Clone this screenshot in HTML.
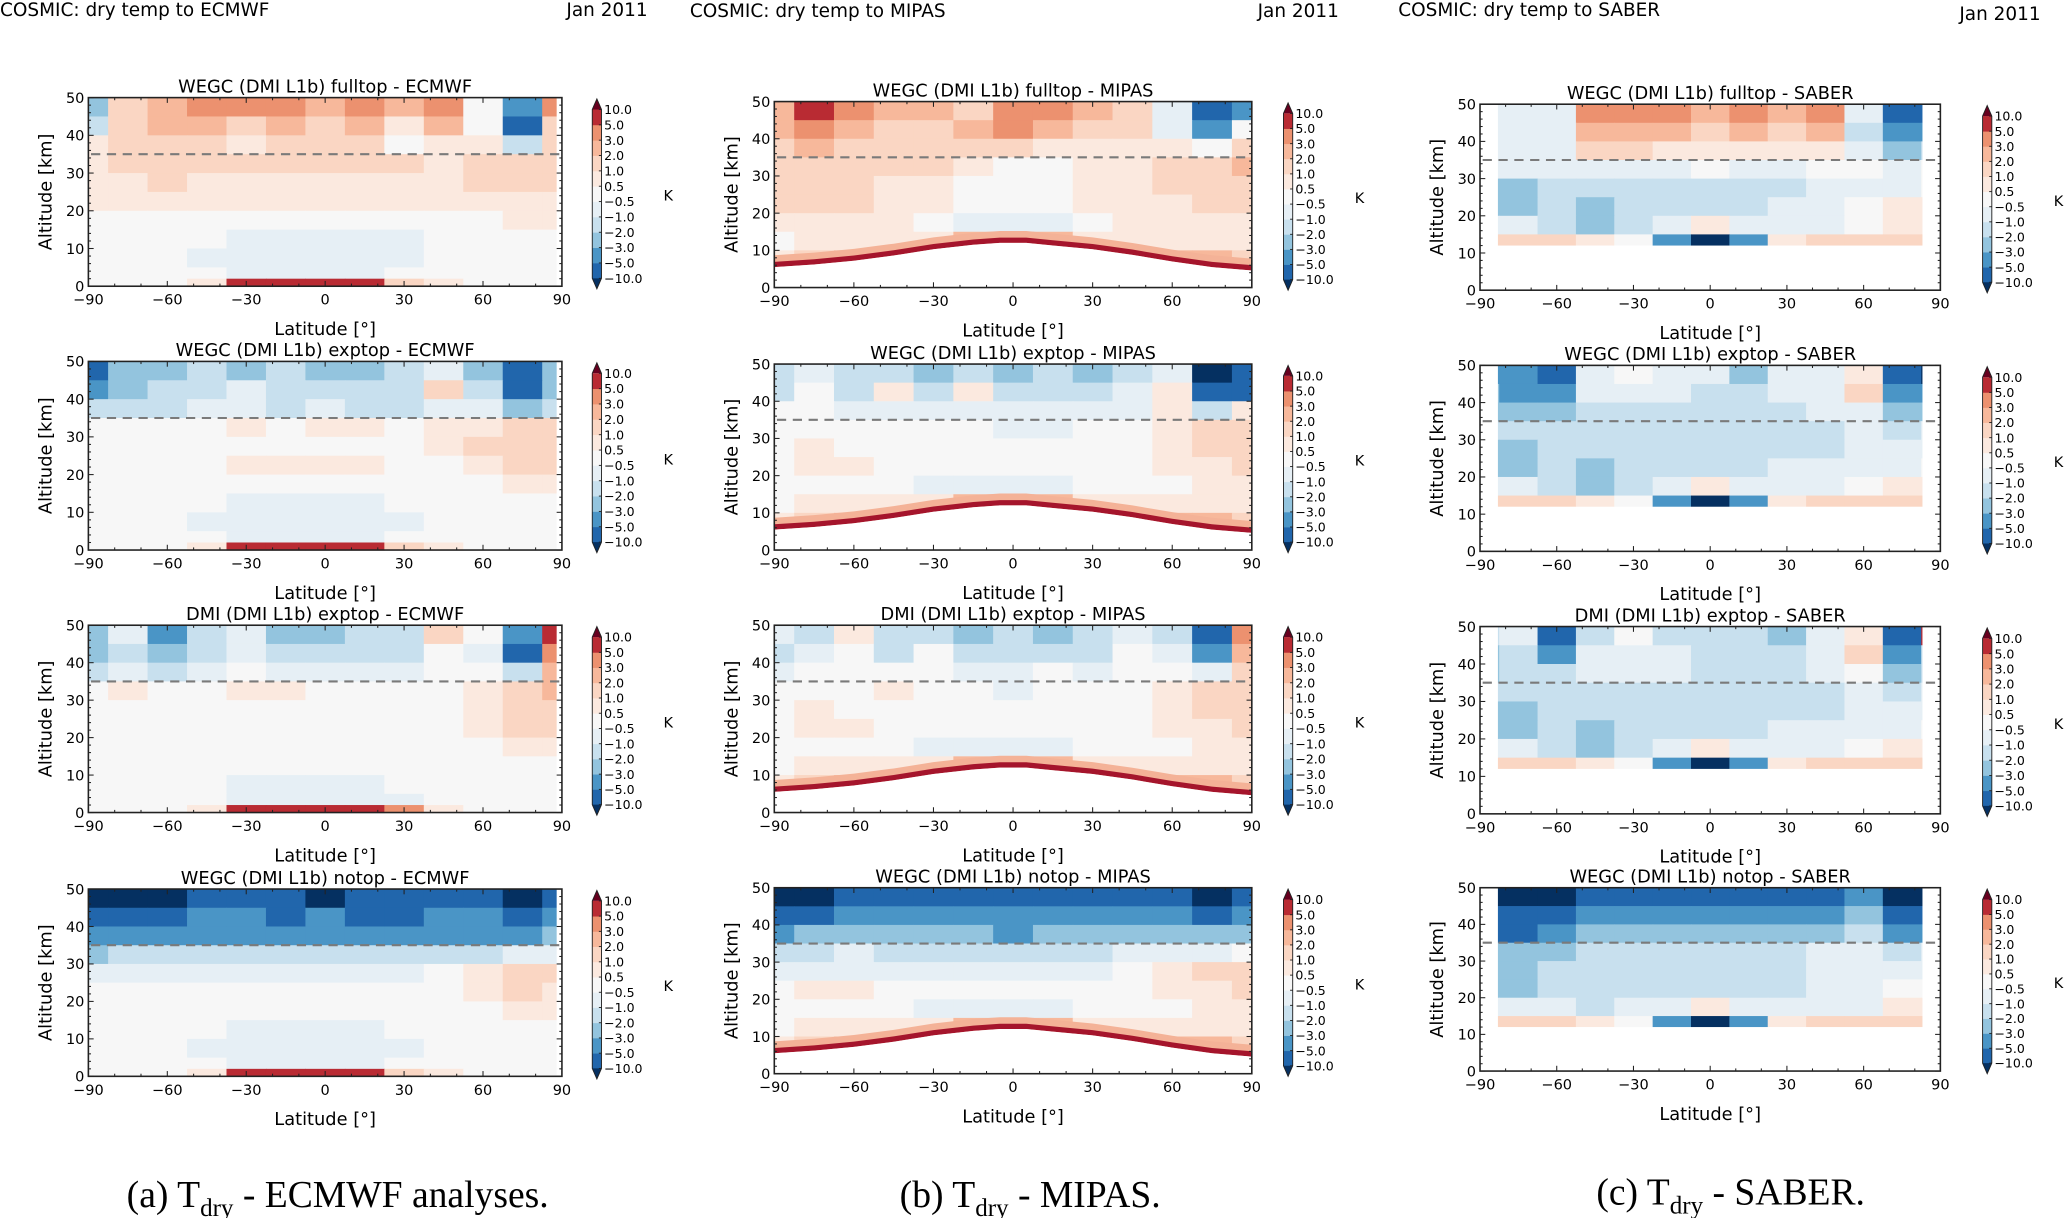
<!DOCTYPE html>
<html><head><meta charset="utf-8"><style>
html,body{margin:0;padding:0;background:#fff;width:2067px;height:1218px;overflow:hidden}
svg{display:block}
text{font-family:"DejaVu Sans","Liberation Sans",sans-serif;fill:#000}
</style></head><body>
<svg id="fig" width="2067" height="1218" viewBox="0 0 1567 923.4" preserveAspectRatio="none" xmlns="http://www.w3.org/2000/svg">
<text x="0" y="12" font-size="14">COSMIC: dry temp to ECMWF</text>
<text x="491" y="12" font-size="14" text-anchor="end">Jan 2011</text>
<text x="523" y="13" font-size="14">COSMIC: dry temp to MIPAS</text>
<text x="1015" y="13" font-size="14" text-anchor="end">Jan 2011</text>
<text x="1060" y="12" font-size="14">COSMIC: dry temp to SABER</text>
<text x="1547" y="15" font-size="14" text-anchor="end">Jan 2011</text>
<text x="256" y="915" font-size="28.5" text-anchor="middle" style="font-family:'Liberation Serif',serif">(a) T<tspan font-size="19" dy="7">dry</tspan><tspan dy="-7"> - ECMWF analyses.</tspan></text>
<text x="781" y="915" font-size="28.5" text-anchor="middle" style="font-family:'Liberation Serif',serif">(b) T<tspan font-size="19" dy="7">dry</tspan><tspan dy="-7"> - MIPAS.</tspan></text>
<text x="1312" y="913" font-size="28.5" text-anchor="middle" style="font-family:'Liberation Serif',serif">(c) T<tspan font-size="19" dy="7">dry</tspan><tspan dy="-7"> - SABER.</tspan></text>
</svg>
<script>
// ---- data ----
const latCenters = [-90,-75,-60,-45,-30,-15,0,15,30,45,60,75,90];
const altEdges = [50,45,40,35,30,25,20,15,10,5,2,0];
const levels = [-10,-5,-3,-2,-1,-0.5,0.5,1,2,3,5,10];
const levelLabels = ["\u221210.0","\u22125.0","\u22123.0","\u22122.0","\u22121.0","\u22120.5","0.5","1.0","2.0","3.0","5.0","10.0"];
const binColors = ["#053061","#2166ac","#4a95c6","#93c4de","#c8e0ee","#e6eff5","#f7f7f7","#fbe9df","#fad6c3","#f7b89b","#ec916f","#b92b33","#67001f"];
const xTicks = [-90,-60,-30,0,30,60,90];
const yTicks = [0,10,20,30,40,50];
const tropLat = [-90,-75,-60,-45,-30,-15,-5,5,15,30,45,60,75,90];
const tropAlt = [5.5,6.2,7.2,8.6,10.3,11.5,12,12,11.3,10.3,8.8,7,5.5,4.6];

const gA1=[[-2.5,1.5,2.5,4,4,4,2.5,4,2.5,4,0,-4,4],[-1.5,1.5,2.5,2.5,1.5,2.5,1.5,2.5,0.7,2.5,0,-7,1.5],[0.7,1.5,1.5,1.5,0.7,1.5,1.5,1.5,0,0.7,0.7,-1.5,1.5],[0.7,1.5,1.5,1.5,1.5,1.5,1.5,1.5,1.5,0.7,1.5,1.5,1.5],[0.7,0.7,1.5,0.7,0.7,0.7,0.7,0.7,0.7,0.7,1.5,1.5,1.5],[0.7,0.7,0.7,0.7,0.7,0.7,0.7,0.7,0.7,0.7,0.7,0.7,0.7],[0,0,0,0,0,0,0,0,0,0,0,0.7,0.7],[0,0,0,0,-0.7,-0.7,-0.7,-0.7,-0.7,0,0,0,0],[0,0,0,-0.7,-0.7,-0.7,-0.7,-0.7,-0.7,0,0,0,0],[0,0,0,0,-0.7,-0.7,-0.7,-0.7,0,0,0,0,0],[0,0,0,0.7,7,7,7,7,1.5,0.7,0,0,0]];
const gA2=[[-7,-2.5,-2.5,-1.5,-2.5,-1.5,-2.5,-2.5,-1.5,-0.7,-2.5,-7,-2.5],[-4,-2.5,-1.5,-1.5,-0.7,-1.5,-1.5,-1.5,-1.5,1.5,-1.5,-7,-2.5],[-1.5,-1.5,-1.5,-0.7,-0.7,-1.5,-0.7,-1.5,-1.5,-0.7,-0.7,-2.5,-1.5],[0,0,0,0,0.7,0,0.7,0.7,0,0.7,0.7,1.5,1.5],[0,0,0,0,0,0,0,0,0,0.7,1.5,1.5,1.5],[0,0,0,0,0.7,0.7,0.7,0.7,0,0,0.7,1.5,1.5],[0,0,0,0,0,0,0,0,0,0,0,0.7,0.7],[0,0,0,0,-0.7,-0.7,-0.7,-0.7,0,0,0,0,0],[0,0,0,-0.7,-0.7,-0.7,-0.7,-0.7,-0.7,0,0,0,0],[0,0,0,0,-0.7,-0.7,-0.7,-0.7,0,0,0,0,0],[0,0,0,0.7,7,7,7,7,1.5,0.7,0,0,0]];
const gA3=[[-2.5,-0.7,-4,-1.5,-0.7,-2.5,-2.5,-1.5,-1.5,1.5,0,-4,7],[-2.5,-1.5,-2.5,-1.5,-0.7,-1.5,-1.5,-1.5,-1.5,0,-0.7,-7,4],[-1.5,-0.7,-1.5,-0.7,0,-0.7,-0.7,-0.7,-0.7,0,0,-1.5,2.5],[0,0.7,0,0,0.7,0.7,0,0,0,0,0.7,1.5,2.5],[0,0,0,0,0,0,0,0,0,0,0.7,1.5,1.5],[0,0,0,0,0,0,0,0,0,0,0.7,1.5,1.5],[0,0,0,0,0,0,0,0,0,0,0,0.7,0.7],[0,0,0,0,0,0,0,0,0,0,0,0,0],[0,0,0,0,-0.7,-0.7,-0.7,-0.7,0,0,0,0,0],[0,0,0,0,-0.7,-0.7,-0.7,-0.7,-0.7,0,0,0,0],[0,0,0,0.7,7,7,7,7,4,0.7,0,0,0]];
const gA4=[[-12,-12,-12,-7,-7,-7,-12,-7,-7,-7,-7,-12,-7],[-7,-7,-7,-4,-4,-7,-4,-7,-7,-4,-4,-7,-4],[-4,-4,-4,-4,-4,-4,-4,-4,-4,-4,-4,-4,-2.5],[-2.5,-1.5,-1.5,-1.5,-1.5,-1.5,-1.5,-1.5,-1.5,-1.5,-1.5,-0.7,-0.7],[-0.7,-0.7,-0.7,-0.7,-0.7,-0.7,-0.7,-0.7,-0.7,0,0.7,1.5,1.5],[0,0,0,0,0,0,0,0,0,0,0.7,1.5,0.7],[0,0,0,0,0,0,0,0,0,0,0,0.7,0.7],[0,0,0,0,-0.7,-0.7,-0.7,-0.7,0,0,0,0,0],[0,0,0,-0.7,-0.7,-0.7,-0.7,-0.7,-0.7,0,0,0,0],[0,0,0,0,-0.7,-0.7,-0.7,-0.7,0,0,0,0,0],[0,0,0,0.7,7,7,7,7,1.5,0.7,0,0,0]];
const gB1=[[2.5,7,4,2.5,2.5,1.5,4,4,2.5,1.5,-0.7,-7,-4],[2.5,4,2.5,1.5,1.5,2.5,4,2.5,1.5,1.5,-0.7,-4,0],[1.5,2.5,1.5,1.5,1.5,1.5,1.5,0.7,0.7,0.7,0.7,0,1.5],[1.5,1.5,1.5,1.5,1.5,0.7,0,0,0.7,0.7,1.5,1.5,2.5],[1.5,1.5,1.5,0.7,0.7,0,0,0,0.7,0.7,1.5,1.5,1.5],[1.5,1.5,1.5,0.7,0.7,0,0,0,0.7,0.7,0.7,1.5,1.5],[0.7,0.7,0.7,0.7,0,-0.7,-0.7,-0.7,0,0.7,0.7,0.7,0.7],[0,0.7,0.7,0.7,0.7,2.5,2.5,2.5,0.7,0.7,0.7,0.7,0.7],[0.7,1.5,2.5,2.5,2.5,2.5,2.5,2.5,2.5,2.5,2.5,2.5,1.5],[null,null,null,null,null,null,null,null,null,null,null,null,null],[null,null,null,null,null,null,null,null,null,null,null,null,null]];
const gB2=[[-1.5,-0.7,-1.5,-1.5,-2.5,-1.5,-2.5,-1.5,-2.5,-1.5,-0.7,-12,-7],[-1.5,0,-1.5,0.7,-1.5,0.7,-1.5,-1.5,-1.5,-0.7,0.7,-7,-7],[0,0,-0.7,-0.7,-0.7,-0.7,-0.7,-0.7,-0.7,-0.7,0.7,-1.5,0.7],[0,0,0,0,0,0,-0.7,-0.7,0,0,0.7,1.5,1.5],[0,0.7,0,0,0,0,0,0,0,0,0.7,1.5,1.5],[0,0.7,0.7,0,0,0,0,0,0,0,0.7,0.7,1.5],[0,0,0,0,-0.7,-0.7,-0.7,-0.7,0,0,0,0.7,0.7],[0,0.7,0.7,0.7,0.7,2.5,2.5,2.5,0.7,0.7,0.7,0.7,0.7],[0.7,1.5,2.5,2.5,2.5,2.5,2.5,2.5,2.5,2.5,2.5,2.5,1.5],[null,null,null,null,null,null,null,null,null,null,null,null,null],[null,null,null,null,null,null,null,null,null,null,null,null,null]];
const gB3=[[-0.7,-1.5,0.7,-1.5,-1.5,-2.5,-1.5,-2.5,-1.5,-0.7,-1.5,-7,4],[-1.5,-0.7,0,-1.5,0,-1.5,-1.5,-1.5,-1.5,0,-0.7,-4,2.5],[-0.7,0,0,0,0,-0.7,-0.7,0,-0.7,0,0,-0.7,1.5],[0,0,0,0.7,0,0,-0.7,0,0,0,0.7,1.5,1.5],[0,0.7,0,0,0,0,0,0,0,0,0.7,1.5,1.5],[0,0.7,0.7,0,0,0,0,0,0,0,0.7,0.7,1.5],[0,0,0,0,-0.7,-0.7,-0.7,-0.7,0,0,0,0.7,0.7],[0,0.7,0.7,0.7,0.7,2.5,2.5,2.5,0.7,0.7,0.7,0.7,0.7],[0.7,1.5,2.5,2.5,2.5,2.5,2.5,2.5,2.5,2.5,2.5,2.5,1.5],[null,null,null,null,null,null,null,null,null,null,null,null,null],[null,null,null,null,null,null,null,null,null,null,null,null,null]];
const gB4=[[-12,-12,-7,-7,-7,-7,-7,-7,-7,-7,-7,-12,-7],[-7,-7,-4,-4,-4,-4,-4,-4,-4,-4,-4,-7,-4],[-4,-2.5,-2.5,-2.5,-2.5,-2.5,-4,-2.5,-2.5,-2.5,-2.5,-2.5,-2.5],[-1.5,-1.5,-0.7,-1.5,-1.5,-1.5,-1.5,-1.5,-1.5,-0.7,-0.7,-0.7,0],[-0.7,-0.7,-0.7,-0.7,-0.7,-0.7,-0.7,-0.7,-0.7,0,0.7,1.5,1.5],[0,0.7,0.7,0,0,0,0,0,0,0,0.7,0.7,1.5],[0,0,0,0,-0.7,-0.7,-0.7,-0.7,0,0,0,0.7,0.7],[0,0.7,0.7,0.7,0.7,2.5,2.5,2.5,0.7,0.7,0.7,0.7,0.7],[0.7,1.5,2.5,2.5,2.5,2.5,2.5,2.5,2.5,2.5,2.5,2.5,1.5],[null,null,null,null,null,null,null,null,null,null,null,null,null],[null,null,null,null,null,null,null,null,null,null,null,null,null]];
const gC1=[[-0.7,-0.7,-0.7,4,4,4,2.5,4,2.5,4,-0.7,-7,-7],[-0.7,-0.7,-0.7,2.5,2.5,2.5,1.5,2.5,1.5,2.5,-1.5,-4,-4],[-0.7,-0.7,-0.7,1.5,1.5,0.7,0.7,0.7,0.7,0.7,-0.7,-2.5,-1.5],[-0.7,-0.7,-0.7,-0.7,-0.7,-0.7,0,-0.7,-0.7,0,0,-0.7,0],[-2.5,-2.5,-1.5,-1.5,-1.5,-1.5,-1.5,-1.5,-1.5,-0.7,-0.7,-0.7,0],[-2.5,-2.5,-1.5,-2.5,-1.5,-1.5,-1.5,-1.5,-0.7,-0.7,0,0.7,0.7],[-0.7,-0.7,-1.5,-2.5,-1.5,-0.7,0.7,-0.7,-0.7,-0.7,0,0.7,0.7],[1.5,1.5,1.5,0.7,0,-4,-12,-4,0.7,1.5,1.5,1.5,1.5],[null,null,null,null,null,null,null,null,null,null,null,null,null],[null,null,null,null,null,null,null,null,null,null,null,null,null],[null,null,null,null,null,null,null,null,null,null,null,null,null]];
const gC2=[[-4,-4,-7,-0.7,0,-0.7,-0.7,-2.5,-0.7,-0.7,0.7,-7,-12],[-2.5,-4,-4,-0.7,-0.7,-0.7,-1.5,-1.5,-0.7,-0.7,1.5,-4,-4],[-2.5,-2.5,-2.5,-1.5,-1.5,-1.5,-1.5,-1.5,-1.5,-0.7,-0.7,-2.5,-2.5],[-1.5,-1.5,-1.5,-1.5,-1.5,-1.5,-1.5,-1.5,-1.5,-1.5,-0.7,-1.5,-0.7],[-2.5,-2.5,-1.5,-1.5,-1.5,-1.5,-1.5,-1.5,-1.5,-1.5,-0.7,-0.7,-0.7],[-2.5,-2.5,-1.5,-2.5,-1.5,-1.5,-1.5,-1.5,-0.7,-0.7,-0.7,-0.7,0],[-0.7,-0.7,-1.5,-2.5,-1.5,-0.7,0.7,-0.7,-0.7,-0.7,0,0.7,0.7],[1.5,1.5,1.5,0.7,0,-4,-12,-4,0.7,1.5,1.5,1.5,1.5],[null,null,null,null,null,null,null,null,null,null,null,null,null],[null,null,null,null,null,null,null,null,null,null,null,null,null],[null,null,null,null,null,null,null,null,null,null,null,null,null]];
const gC3=[[-1.5,-0.7,-7,-1.5,0,-1.5,-1.5,-1.5,-2.5,-0.7,0.7,-7,7],[-2.5,-1.5,-4,-0.7,-0.7,-0.7,-1.5,-1.5,-1.5,-0.7,1.5,-4,-1.5],[-2.5,-1.5,-1.5,-0.7,-0.7,-0.7,-1.5,-1.5,-1.5,-0.7,0,-2.5,-1.5],[-1.5,-1.5,-1.5,-1.5,-1.5,-1.5,-1.5,-1.5,-1.5,-1.5,-0.7,-1.5,-0.7],[-2.5,-2.5,-1.5,-1.5,-1.5,-1.5,-1.5,-1.5,-1.5,-1.5,-0.7,-0.7,-0.7],[-2.5,-2.5,-1.5,-2.5,-1.5,-1.5,-1.5,-1.5,-0.7,-0.7,-0.7,-0.7,0],[-0.7,-0.7,-1.5,-2.5,-1.5,-0.7,0.7,-0.7,-0.7,-0.7,0,0.7,0.7],[1.5,1.5,1.5,0.7,0,-4,-12,-4,0.7,1.5,1.5,1.5,1.5],[null,null,null,null,null,null,null,null,null,null,null,null,null],[null,null,null,null,null,null,null,null,null,null,null,null,null],[null,null,null,null,null,null,null,null,null,null,null,null,null]];
const gC4=[[-12,-12,-12,-7,-7,-7,-7,-7,-7,-7,-4,-12,-12],[-7,-7,-7,-4,-4,-4,-4,-4,-4,-4,-2.5,-7,-7],[-7,-7,-4,-2.5,-2.5,-2.5,-2.5,-2.5,-2.5,-2.5,-1.5,-4,-4],[-2.5,-2.5,-2.5,-1.5,-1.5,-1.5,-1.5,-1.5,-1.5,-0.7,-0.7,-1.5,-0.7],[-2.5,-2.5,-1.5,-1.5,-1.5,-1.5,-1.5,-1.5,-1.5,-0.7,-0.7,-0.7,-0.7],[-2.5,-2.5,-1.5,-1.5,-1.5,-1.5,-1.5,-1.5,-1.5,-0.7,-0.7,0,0],[-0.7,-0.7,-0.7,-1.5,-0.7,-0.7,0.7,-0.7,-0.7,-0.7,-0.7,0.7,0.7],[1.5,1.5,1.5,0.7,0,-4,-12,-4,0.7,1.5,1.5,1.5,1.5],[null,null,null,null,null,null,null,null,null,null,null,null,null],[null,null,null,null,null,null,null,null,null,null,null,null,null],[null,null,null,null,null,null,null,null,null,null,null,null,null]];

const panelTitles = ["WEGC (DMI L1b) fulltop - ECMWF","WEGC (DMI L1b) exptop - ECMWF","DMI (DMI L1b) exptop - ECMWF","WEGC (DMI L1b) notop - ECMWF",
"WEGC (DMI L1b) fulltop - MIPAS","WEGC (DMI L1b) exptop - MIPAS","DMI (DMI L1b) exptop - MIPAS","WEGC (DMI L1b) notop - MIPAS",
"WEGC (DMI L1b) fulltop - SABER","WEGC (DMI L1b) exptop - SABER","DMI (DMI L1b) exptop - SABER","WEGC (DMI L1b) notop - SABER"];
const panelGrids = [gA1,gA2,gA3,gA4,gB1,gB2,gB3,gB4,gC1,gC2,gC3,gC4];
const panelKinds = ["ecmwf","ecmwf","ecmwf","ecmwf","mipas","mipas","mipas","mipas","saber","saber","saber","saber"];

// ---- layout ----
const colX = [[67,426,449],[587,949,973],[1122,1471,1503]];
const rowY = [[[74,217],[274,417],[474,616],[674,816]],[[77,218],[276,417],[474,616],[673,814]],[[79,220],[277,418],[475,617],[673,812]]];

const NS="http://www.w3.org/2000/svg";
const svg=document.getElementById('fig');
function mk(tag,attrs,parent){const e=document.createElementNS(NS,tag);for(const k in attrs)e.setAttribute(k,attrs[k]);(parent||svg).appendChild(e);return e;}
function colorOf(v){let i=0;while(i<levels.length&&v>=levels[i])i++;return binColors[i];}

panelGrids.forEach((grid,p)=>{
  const c=Math.floor(p/4), r=p%4;
  const [x0,x1,cbx]=colX[c]; const [y0,y1]=rowY[c][r];
  const sx=lat=>x0+(lat+90)/180*(x1-x0);
  const sy=alt=>y1-alt/50*(y1-y0);
  const g=mk('g',{});
  
  
  grid.forEach((row,ri)=>{
    row.forEach((v,ci)=>{
      if(v===null)return;
      const la=Math.max(-90,latCenters[ci]-7.5), lb=Math.min(90,latCenters[ci]+7.5);
      const xa=sx(la), xb=sx(lb), ya=sy(altEdges[ri]), yb=sy(altEdges[ri+1]);
      const rc=mk('rect',{x:xa,y:ya,width:xb-xa+0.4,height:yb-ya+0.4,fill:colorOf(v)},g);
      
      
    });
  });
  if(panelKinds[p]==='mipas'){
    const pts=tropLat.map((la,i)=>[sx(la),sy(tropAlt[i])]);
    const band=mk('polygon',{points:pts.map(q=>q[0]+','+(q[1]-9)).join(' ')+' '+pts.slice().reverse().map(q=>q[0]+','+q[1]).join(' '),fill:'#f4b297'},g);
    
    
    const band2=mk('polygon',{points:pts.map(q=>q[0]+','+(q[1]-4)).join(' ')+' '+pts.slice().reverse().map(q=>q[0]+','+q[1]).join(' '),fill:'#a5152c'},g);
    
    
    const mask=mk('polygon',{points:pts.map(q=>q[0]+','+q[1]).join(' ')+' '+sx(90)+','+sy(0)+' '+sx(-90)+','+sy(0),fill:'#fff'},g);
    
    
  }
  if(panelKinds[p]==='saber'){
    const m1=mk('rect',{x:sx(-90),y:y0,width:sx(-83)-sx(-90),height:y1-y0,fill:'#fff'},g);
    
    
    const m2=mk('rect',{x:sx(83),y:y0,width:sx(90)-sx(83),height:y1-y0,fill:'#fff'},g);
    
    
    const m3=mk('rect',{x:x0,y:sy(12),width:x1-x0,height:sy(0)-sy(12),fill:'#fff'},g);
    
    
  }
  if(panelKinds[p]==='ecmwf'){
    const m=mk('rect',{x:sx(88),y:y0,width:sx(90)-sx(88),height:y1-y0,fill:'#fff'},g);
    
    
  }
  const dl=mk('line',{x1:x0+2,x2:x1-2,y1:sy(35),y2:sy(35),stroke:'#7a7a7a','stroke-width':1.6,'stroke-dasharray':'7,5'},g);
  
  
  const fr=mk('rect',{x:x0,y:y0,width:x1-x0,height:y1-y0,fill:'none',stroke:'#222','stroke-width':1.2},g);
  
  
  for(let la=-90;la<=90;la+=10){
    mk('line',{x1:sx(la),x2:sx(la),y1:y1,y2:y1-(la%30===0?4:2),stroke:'#222','stroke-width':0.8},g);
    mk('line',{x1:sx(la),x2:sx(la),y1:y0,y2:y0+(la%30===0?4:2),stroke:'#222','stroke-width':0.8},g);
  }
  for(let a=0;a<=50;a+=2){
    const big=a%10===0;
    mk('line',{x1:x0,x2:x0+(big?4:2),y1:sy(a),y2:sy(a),stroke:'#222','stroke-width':0.8},g);
    mk('line',{x1:x1,x2:x1-(big?4:2),y1:sy(a),y2:sy(a),stroke:'#222','stroke-width':0.8},g);
  }
  xTicks.forEach(t=>{
    const tx=mk('text',{x:sx(t),y:y1+14,'font-size':11,'text-anchor':'middle'},g);
    tx.textContent=(t<0?'\u2212'+(-t):String(t));
    
    
  });
  yTicks.forEach(t=>{
    const ty=mk('text',{x:x0-3,y:sy(t)+4,'font-size':11,'text-anchor':'end'},g);
    ty.textContent=String(t);
    
    
  });
  const tt=mk('text',{x:(x0+x1)/2,y:y0-4,'font-size':13.5,'text-anchor':'middle'},g);
  tt.textContent=panelTitles[p];
  
  
  const xl=mk('text',{x:(x0+x1)/2,y:y1+37,'font-size':13.5,'text-anchor':'middle'},g);
  xl.textContent='Latitude [\u00b0]';
  
  
  const ylx=x0-28, yly=(y0+y1)/2;
  const yl=mk('text',{x:ylx,y:yly,'font-size':13.5,'text-anchor':'middle',transform:'rotate(-90 '+ylx+' '+yly+')'},g);
  yl.textContent='Altitude [km]';
  
  
  const cbT=y0+9, cbB=y1-6, cw=7, n=levels.length-1;
  const cy=i=>cbB-i/n*(cbB-cbT);
  for(let i=0;i<n;i++){
    const cr=mk('rect',{x:cbx,y:cy(i+1),width:cw,height:cy(i)-cy(i+1)+0.3,fill:binColors[i+1]},g);
    
    
  }
  const tu=mk('polygon',{points:cbx+','+cbT+' '+(cbx+cw)+','+cbT+' '+(cbx+cw/2)+','+(cbT-8),fill:binColors[12]},g);
  
  
  const td=mk('polygon',{points:cbx+','+cbB+' '+(cbx+cw)+','+cbB+' '+(cbx+cw/2)+','+(cbB+8),fill:binColors[0]},g);
  
  
  mk('polygon',{points:cbx+','+cbT+' '+(cbx+cw/2)+','+(cbT-8)+' '+(cbx+cw)+','+cbT+' '+(cbx+cw)+','+cbB+' '+(cbx+cw/2)+','+(cbB+8)+' '+cbx+','+cbB,fill:'none',stroke:'#222','stroke-width':0.7},g);
  levelLabels.forEach((lab,i)=>{
    mk('line',{x1:cbx+cw-2,x2:cbx+cw,y1:cy(i),y2:cy(i),stroke:'#222','stroke-width':0.7},g);
    const lt=mk('text',{x:cbx+cw+2,y:cy(i)+3.5,'font-size':9.5},g);
    lt.textContent=lab;
    
    
  });
  const kt=mk('text',{x:cbx+54,y:(cbT+cbB)/2+5,'font-size':11},g);
  kt.textContent='K';
  
  
});
</script>
</body></html>
